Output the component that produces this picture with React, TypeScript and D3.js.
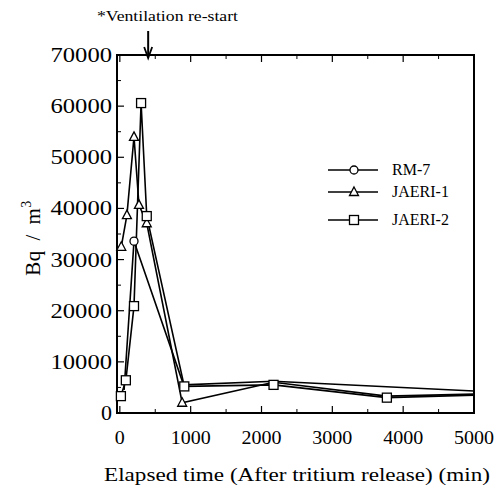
import React from "react";
import * as d3 from "d3";

const xTicks = [0, 1000, 2000, 3000, 4000, 5000];
const yTicks = [0, 10000, 20000, 30000, 40000, 50000, 60000, 70000];

const rm7X = [60, 200, 900, 2170, 5000];
const rm7Y = [4500, 33600, 5500, 6200, 4300];
const jaeri1X = [20, 100, 200, 270, 380, 880, 2170, 3770, 5000];
const jaeri1Y = [32500, 38700, 54000, 40700, 37100, 2000, 6000, 3300, 3700];
const jaeri2X = [15, 85, 200, 300, 380, 910, 2170, 3770, 5000];
const jaeri2Y = [3300, 6400, 20900, 60600, 38500, 5200, 5500, 3000, 3500];

const seriesNames = ["RM-7", "JAERI-1", "JAERI-2"];
const annotationText = "*Ventilation re-start";
const annotationX = 400;
const xTitle = "Elapsed time (After tritium release)  (min)";

const W = 498, H = 489;
const L = 117, R = 474, T = 55, B = 413;
const FONT = "'Liberation Serif', 'Times New Roman', serif";

function Marker({ kind, x, y }: { kind: string; x: number; y: number }) {
  if (kind === "circle") return <circle cx={x} cy={y} r={4} fill="white" stroke="black" strokeWidth={1.3} />;
  if (kind === "triangle")
    return <path d={`M${x},${y - 5} L${x + 4.5},${y + 3.5} L${x - 4.5},${y + 3.5} Z`} fill="white" stroke="black" strokeWidth={1.3} />;
  return <rect x={x - 4.5} y={y - 4.5} width={9} height={9} fill="white" stroke="black" strokeWidth={1.3} />;
}

export default function App() {
  const x = d3.scaleLinear().domain([-40, 5000]).range([L, R]);
  const y = d3.scaleLinear().domain([0, 70000]).range([B, T]);
  const line = d3.line<[number, number]>().x(d => x(d[0])).y(d => y(d[1]));

  const series = [
    { name: seriesNames[0], xs: rm7X, ys: rm7Y, kind: "circle", markers: [1] },
    { name: seriesNames[1], xs: jaeri1X, ys: jaeri1Y, kind: "triangle", markers: [0, 1, 2, 3, 4, 5] },
    { name: seriesNames[2], xs: jaeri2X, ys: jaeri2Y, kind: "square", markers: [0, 1, 2, 3, 4, 5, 6, 7] },
  ];

  const xMinor = d3.range(500, 5000, 1000);
  const yMinor = d3.range(5000, 70000, 10000);

  return (
    <svg width={W} height={H} style={{ display: "block", position: "absolute", left: 0, top: 0 }} fontFamily={FONT}>
      <rect width={W} height={H} fill="white" />
      {xTicks.map(t => (
        <g key={"xt" + t}>
          <line x1={x(t)} x2={x(t)} y1={B} y2={B - 7} stroke="black" strokeWidth={1.2} />
          <line x1={x(t)} x2={x(t)} y1={T} y2={T + 7} stroke="black" strokeWidth={1.2} />
          <text x={x(t)} y={B + 31} textAnchor="middle" fontSize={19} textLength={t === 0 ? 10 : 40} lengthAdjust="spacingAndGlyphs">{t}</text>
        </g>
      ))}
      {xMinor.map(t => (
        <g key={"xm" + t}>
          <line x1={x(t)} x2={x(t)} y1={B} y2={B - 4} stroke="black" strokeWidth={1} />
          <line x1={x(t)} x2={x(t)} y1={T} y2={T + 4} stroke="black" strokeWidth={1} />
        </g>
      ))}
      {yTicks.map(t => (
        <g key={"yt" + t}>
          <line x1={L} x2={L + 7} y1={y(t)} y2={y(t)} stroke="black" strokeWidth={1.2} />
          <text x={112} y={y(t) + 7} textAnchor="end" fontSize={20} textLength={t === 0 ? 11 : String(t).length * 12.3} lengthAdjust="spacingAndGlyphs">{t}</text>
        </g>
      ))}
      {yMinor.map(t => (
        <line key={"ym" + t} x1={L} x2={L + 4} y1={y(t)} y2={y(t)} stroke="black" strokeWidth={1} />
      ))}
      <rect x={L} y={T} width={R - L} height={B - T} fill="none" stroke="black" strokeWidth={2} />
      {series.map(s => (
        <path key={s.name} d={line(s.xs.map((v, i) => [v, s.ys[i]] as [number, number])) || ""} fill="none" stroke="black" strokeWidth={1.6} />
      ))}
      {series.map(s =>
        s.markers.map(i => <Marker key={s.name + i} kind={s.kind} x={x(s.xs[i])} y={y(s.ys[i])} />)
      )}
      {series.map((s, i) => {
        const ly = [170, 192, 220][i];
        return (
          <g key={"lg" + s.name}>
            <line x1={328} x2={378} y1={ly} y2={ly} stroke="black" strokeWidth={1.3} />
            <Marker kind={s.kind} x={354} y={ly} />
            <text x={392} y={ly + 5} fontSize={16}>{s.name}</text>
          </g>
        );
      })}
      <text x={97} y={21} fontSize={15} textLength={141} lengthAdjust="spacingAndGlyphs">{annotationText}</text>
      <line x1={x(annotationX)} x2={x(annotationX)} y1={31} y2={56} stroke="black" strokeWidth={2} />
      <path d={`M${x(annotationX) - 4},${47} L${x(annotationX)},${58} L${x(annotationX) + 4},${47}`} fill="none" stroke="black" strokeWidth={1.8} />
      <text x={104} y={481} fontSize={18} textLength={386} lengthAdjust="spacingAndGlyphs">{xTitle}</text>
      <text transform="translate(40,238) rotate(-90)" textAnchor="middle" fontSize={21} wordSpacing={4} letterSpacing={0.5}>
        Bq / m<tspan dy={-9} fontSize={14}>3</tspan>
      </text>
    </svg>
  );
}
